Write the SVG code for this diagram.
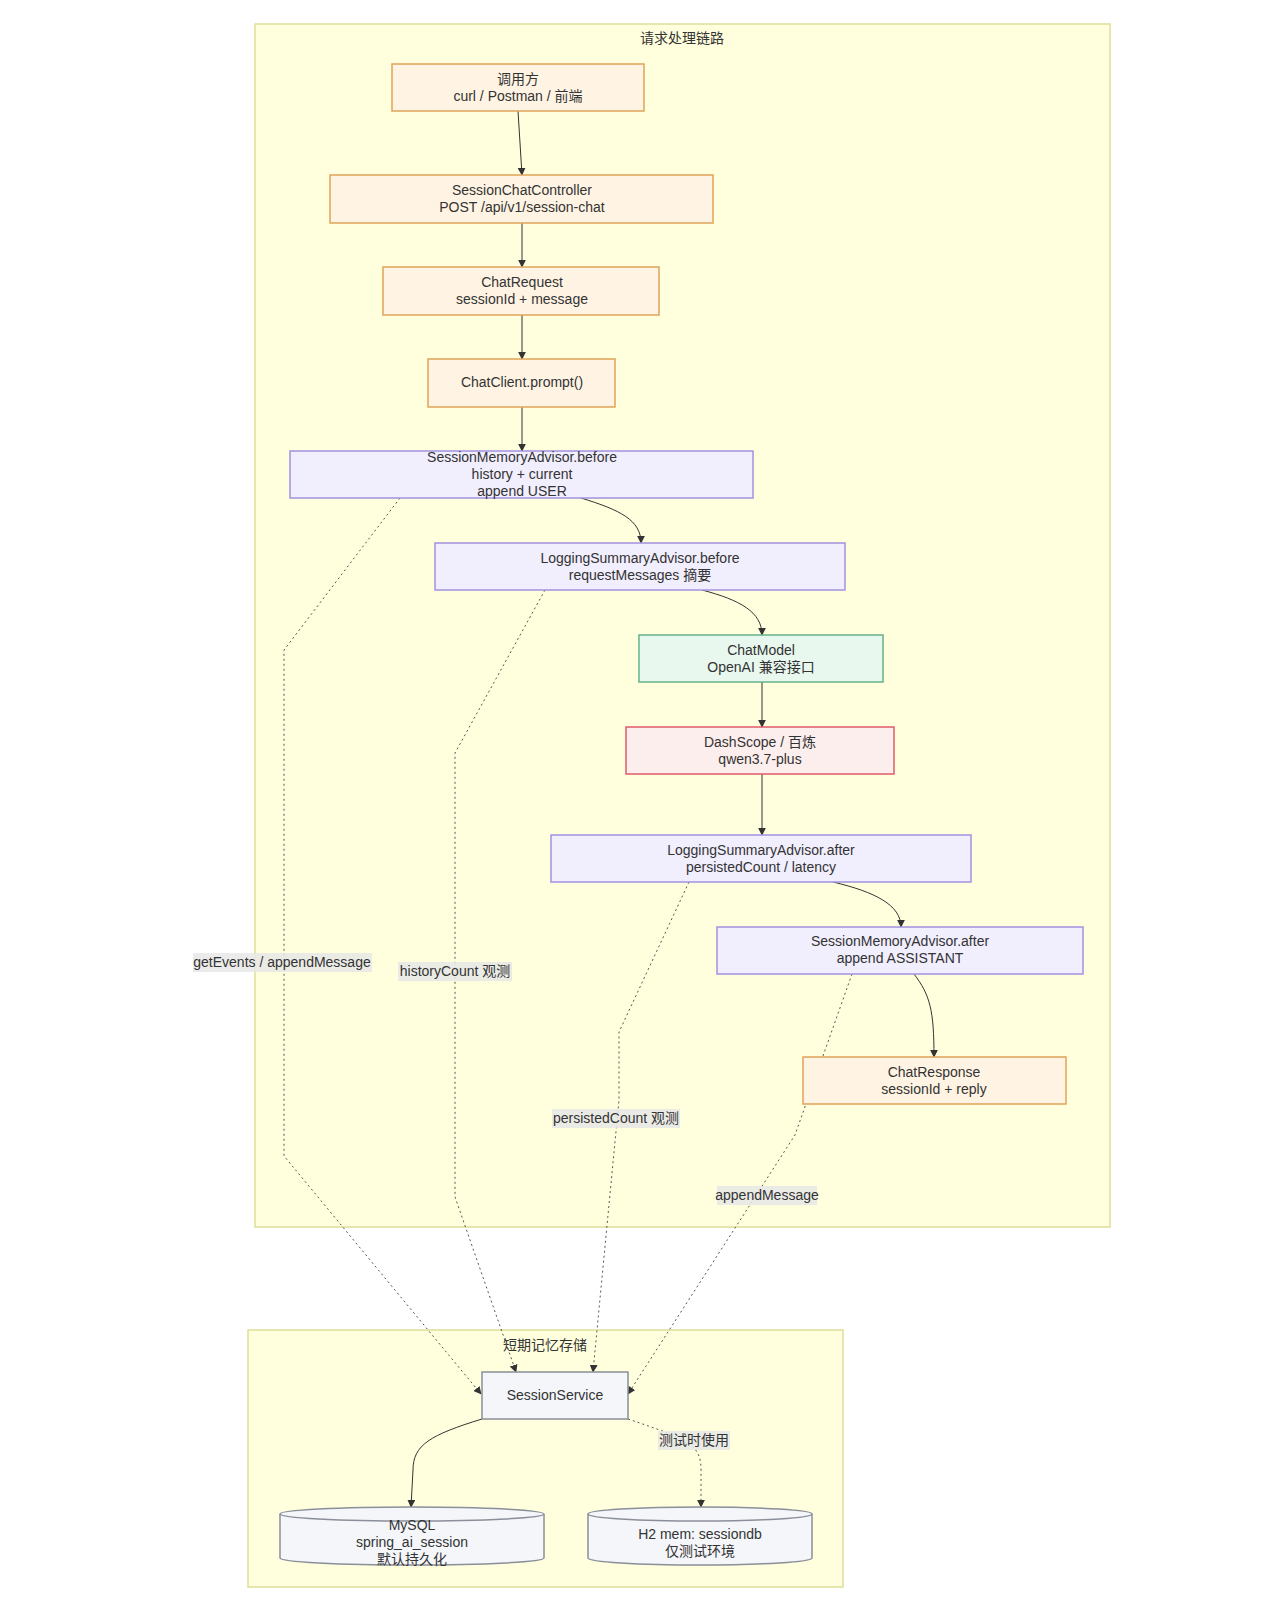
<svg xmlns="http://www.w3.org/2000/svg" width="1280" height="1613" viewBox="0 0 1280 1613">
<defs>
<style>
text{font-family:"Liberation Sans","Noto Sans CJK SC",sans-serif;font-size:14px;fill:#333;text-anchor:middle}
.cl{fill:#ffffde;stroke:#dede9a;stroke-width:1.5}
.o{fill:#fff3e3;stroke:#e0a458;stroke-width:1.5}
.p{fill:#f1eefe;stroke:#a391e0;stroke-width:1.5}
.g{fill:#e8f8ef;stroke:#66b38c;stroke-width:1.5}
.r{fill:#fdeeee;stroke:#e05a68;stroke-width:1.5}
.s{fill:#f4f6fa;stroke:#8a8f99;stroke-width:1.5}
.e{fill:none;stroke:#333;stroke-width:1}
.d{fill:none;stroke:#555;stroke-width:1;stroke-dasharray:2 3}
.lb{fill:#e8e8e8;opacity:.85}
</style>
<marker id="a" viewBox="0 0 10 10" refX="9" refY="5" markerWidth="8" markerHeight="8" orient="auto"><path d="M0,0L10,5L0,10z" fill="#333"/></marker>
</defs>
<g id="cluster-main"><rect class="cl" x="255" y="24" width="855" height="1203"/><text x="682" y="43">请求处理链路</text></g>
<g id="cluster-store"><rect class="cl" x="248" y="1330" width="595" height="257"/><text x="545" y="1350">短期记忆存储</text></g>
<g id="edges">
<path class="e" d="M518,111L522,175" marker-end="url(#a)"/>
<path class="e" d="M522,223L522,267" marker-end="url(#a)"/>
<path class="e" d="M522,315L522,359" marker-end="url(#a)"/>
<path class="e" d="M522,407L522,451" marker-end="url(#a)"/>
<path class="e" d="M581,498C620,510 641,520 641,543" marker-end="url(#a)"/>
<path class="e" d="M702,590C740,600 762,612 762,635" marker-end="url(#a)"/>
<path class="e" d="M762,682L762,727" marker-end="url(#a)"/>
<path class="e" d="M762,774L762,835" marker-end="url(#a)"/>
<path class="e" d="M833,882C875,892 901,905 901,927" marker-end="url(#a)"/>
<path class="e" d="M914,974C930,995 934,1010 934,1057" marker-end="url(#a)"/>
<path class="d" d="M400,498L284,650L284,1156L481,1394" marker-end="url(#a)"/>
<path class="d" d="M545,590L455,753L455,1197L516,1372" marker-end="url(#a)"/>
<path class="d" d="M689,882L619,1032L619,1100L593,1372" marker-end="url(#a)"/>
<path class="d" d="M852,974L795,1135L628,1394" marker-end="url(#a)"/>
<path class="e" d="M482,1419C430,1435 413,1445 413,1470L411,1507" marker-end="url(#a)"/>
<path class="d" d="M628,1419C690,1440 701,1445 701,1470L701,1507" marker-end="url(#a)"/>
<rect class="lb" x="193" y="953" width="179" height="19"/><text x="282" y="967">getEvents / appendMessage</text>
<rect class="lb" x="398" y="962" width="114" height="19"/><text x="455" y="976">historyCount 观测</text>
<rect class="lb" x="552" y="1109" width="128" height="19"/><text x="616" y="1123">persistedCount 观测</text>
<rect class="lb" x="717" y="1186" width="100" height="19"/><text x="767" y="1200">appendMessage</text>
<rect class="lb" x="658" y="1431" width="72" height="19"/><text x="694" y="1445">测试时使用</text>
</g>
<g id="caller"><rect class="o" x="392" y="64" width="252" height="47"/><text x="518" y="84">调用方</text><text x="518" y="101">curl / Postman / 前端</text></g>
<g id="controller"><rect class="o" x="330" y="175" width="383" height="48"/><text x="522" y="195">SessionChatController</text><text x="522" y="212">POST /api/v1/session-chat</text></g>
<g id="chatrequest"><rect class="o" x="383" y="267" width="276" height="48"/><text x="522" y="287">ChatRequest</text><text x="522" y="304">sessionId + message</text></g>
<g id="chatclient"><rect class="o" x="428" y="359" width="187" height="48"/><text x="522" y="387">ChatClient.prompt()</text></g>
<g id="sma-before"><rect class="p" x="290" y="451" width="463" height="47"/><text x="522" y="462">SessionMemoryAdvisor.before</text><text x="522" y="479">history + current</text><text x="522" y="496">append USER</text></g>
<g id="lsa-before"><rect class="p" x="435" y="543" width="410" height="47"/><text x="640" y="563">LoggingSummaryAdvisor.before</text><text x="640" y="580">requestMessages 摘要</text></g>
<g id="chatmodel"><rect class="g" x="639" y="635" width="244" height="47"/><text x="761" y="655">ChatModel</text><text x="761" y="672">OpenAI 兼容接口</text></g>
<g id="dashscope"><rect class="r" x="626" y="727" width="268" height="47"/><text x="760" y="747">DashScope / 百炼</text><text x="760" y="764">qwen3.7-plus</text></g>
<g id="lsa-after"><rect class="p" x="551" y="835" width="420" height="47"/><text x="761" y="855">LoggingSummaryAdvisor.after</text><text x="761" y="872">persistedCount / latency</text></g>
<g id="sma-after"><rect class="p" x="717" y="927" width="366" height="47"/><text x="900" y="946">SessionMemoryAdvisor.after</text><text x="900" y="963">append ASSISTANT</text></g>
<g id="chatresponse"><rect class="o" x="803" y="1057" width="263" height="47"/><text x="934" y="1077">ChatResponse</text><text x="934" y="1094">sessionId + reply</text></g>
<g id="sessionservice"><rect class="s" x="482" y="1372" width="146" height="47"/><text x="555" y="1400">SessionService</text></g>
<g id="mysql"><path class="s" d="M280,1514a132,7 0 0,1 264,0v44a132,7 0 0,1 -264,0z"/><path class="s" d="M280,1514a132,7 0 0,0 264,0" fill="none"/><text x="412" y="1530">MySQL</text><text x="412" y="1547">spring_ai_session</text><text x="412" y="1564">默认持久化</text></g>
<g id="h2"><path class="s" d="M588,1514a112,7 0 0,1 224,0v44a112,7 0 0,1 -224,0z"/><path class="s" d="M588,1514a112,7 0 0,0 224,0" fill="none"/><text x="700" y="1539">H2 mem: sessiondb</text><text x="700" y="1556">仅测试环境</text></g>
</svg>
